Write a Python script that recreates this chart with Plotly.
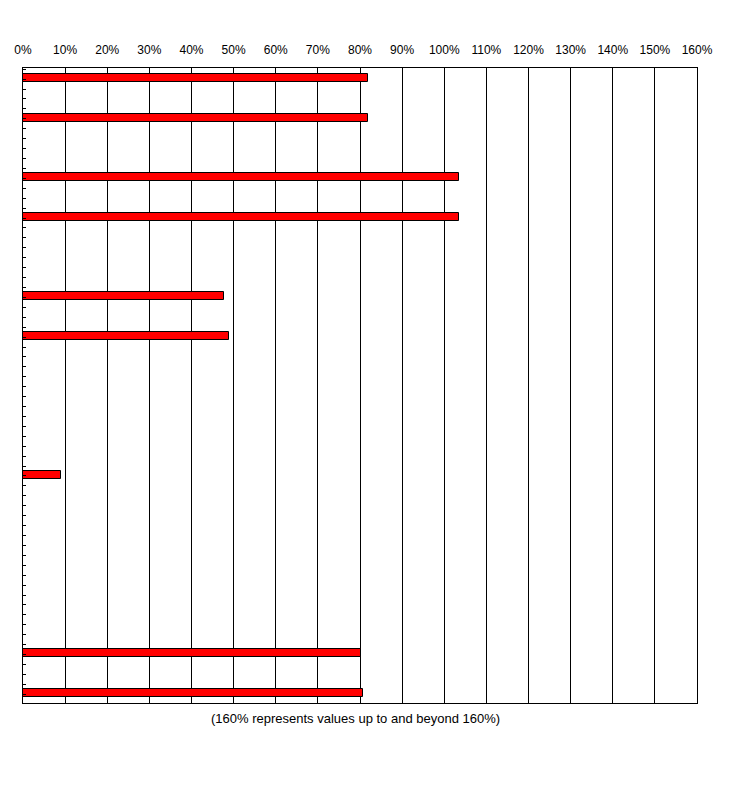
import plotly.graph_objects as go

# 32 category slots (top to bottom); only some carry a bar
n_slots = 32
bar_slots = [0, 2, 5, 7, 11, 13, 20, 29, 31]
bar_values = [81.8, 82.0, 103.6, 103.6, 47.6, 49.0, 9.1, 80.3, 80.6]
x_ticks = list(range(0, 161, 10))
x_tick_labels = [f"{v}%" for v in x_ticks]
footnote = "(160% represents values up to and beyond 160%)"

fig = go.Figure()
fig.add_trace(go.Bar(
    x=bar_values, y=bar_slots, orientation="h", width=0.4,
    marker=dict(color="#FF0000", line=dict(color="black", width=1)),
    hoverinfo="x",
))

fig.update_layout(
    width=729, height=785,
    margin=dict(l=23, r=32, t=68, b=82),
    paper_bgcolor="white", plot_bgcolor="white",
    showlegend=False, bargap=0,
    font=dict(family="Arial, Liberation Sans, sans-serif", size=12, color="black"),
)
fig.update_xaxes(
    range=[0, 160], side="top",
    tickmode="array", tickvals=x_ticks, ticktext=x_tick_labels,
    showgrid=True, gridcolor="black", gridwidth=1,
    showline=True, linecolor="black", linewidth=1, mirror=True,
    ticks="", ticklabelstandoff=8, zeroline=False,
)
fig.update_yaxes(
    range=[n_slots - 0.5, -0.5],
    tickmode="linear", tick0=0.06, dtick=0.5,
    showticklabels=False, ticks="inside", ticklen=3, tickcolor="black",
    showgrid=False, zeroline=False,
    showline=True, linecolor="black", linewidth=1, mirror=True,
)
fig.add_annotation(
    text=footnote, xref="paper", yref="paper", x=0.494, y=0, yshift=-15,
    yanchor="middle", showarrow=False, font=dict(size=13),
)
fig.write_html("out.html", config={"displayModeBar": False},
               post_script="document.body.style.margin='0';")
